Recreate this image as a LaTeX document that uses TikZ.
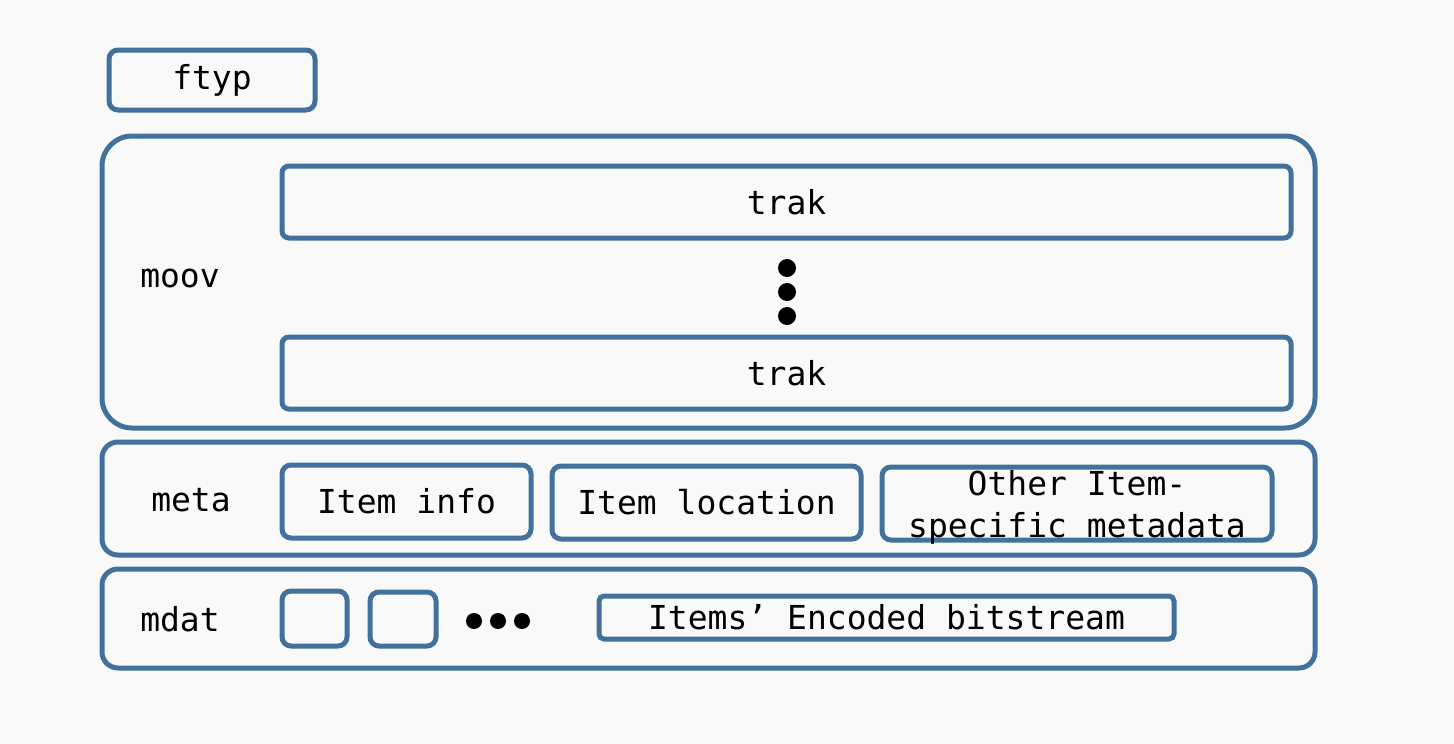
\documentclass[tikz,border=0pt]{standalone}
\usepackage{fontspec}
\setmonofont{DejaVu Sans Mono}
\usetikzlibrary{positioning}
\definecolor{boxblue}{RGB}{65,113,156}
\definecolor{bg}{RGB}{249,249,249}
\tikzset{
  box/.style={draw=boxblue,line width=5pt,rounded corners=9pt,fill=bg,inner sep=0pt,align=center},
  outer/.style={box,rounded corners=22pt},
  lbl/.style={inner sep=0pt}
}

\begin{document}
\begin{tikzpicture}[x=1pt,y=-1pt,font=\ttfamily\fontsize{33}{42}\selectfont]
  \fill[bg] (0,0) rectangle (1454,744);
  \useasboundingbox (0,0) rectangle (1454,744);

  % ftyp
  \node[box,minimum width=206pt,minimum height=60pt] (ftyp) at (212,80) {ftyp};

  % moov with its tracks
  \node[outer,rounded corners=30pt,minimum width=1213pt,minimum height=292pt] (moov) at (708.5,282) {};
  \node[lbl] (moovlbl) at (180,278) {moov};
  \node[box,rounded corners=7pt,minimum width=1009pt,minimum height=72pt] (trak1) at (786.5,202) {trak};
  \node[box,rounded corners=7pt,minimum width=1009pt,minimum height=72pt] (trak2) at (786.5,373) {trak};
  \foreach \y in {268,292,316}
    \fill (787,\y) circle (9pt);

  % meta
  \node[outer,rounded corners=16pt,minimum width=1213pt,minimum height=113pt] (meta) at (708.5,498.5) {};
  \node[lbl] (metalbl) at (191,500) {meta};
  \node[box,minimum width=249pt,minimum height=73pt] (info) at (406.5,501.5) {Item info};
  \node[box,minimum width=309pt,minimum height=73pt] (loc) at (706.5,502.5) {Item location};
  \node[box,minimum width=390pt,minimum height=73pt] (other) at (1077,503.5) {};
  \node[lbl,align=center] (otherlbl) at (1077,507) {Other Item-\\specific metadata};

  % mdat
  \node[outer,rounded corners=16pt,minimum width=1213pt,minimum height=99pt] (mdat) at (708.5,618.5) {};
  \node[lbl] (mdatlbl) at (180,619) {mdat};
  \node[box,minimum width=65pt,minimum height=55pt] (itema) at (314.5,618.5) {};
  \node[box,minimum width=66pt,minimum height=54pt] (itemb) at (403,619) {};
  \foreach \x in {474,498,522}
    \fill (\x,621) circle (8pt);
  \node[box,rounded corners=5pt,minimum width=575pt,minimum height=43pt] (bits) at (886.5,617.5) {Items’ Encoded bitstream};
\end{tikzpicture}
\end{document}
